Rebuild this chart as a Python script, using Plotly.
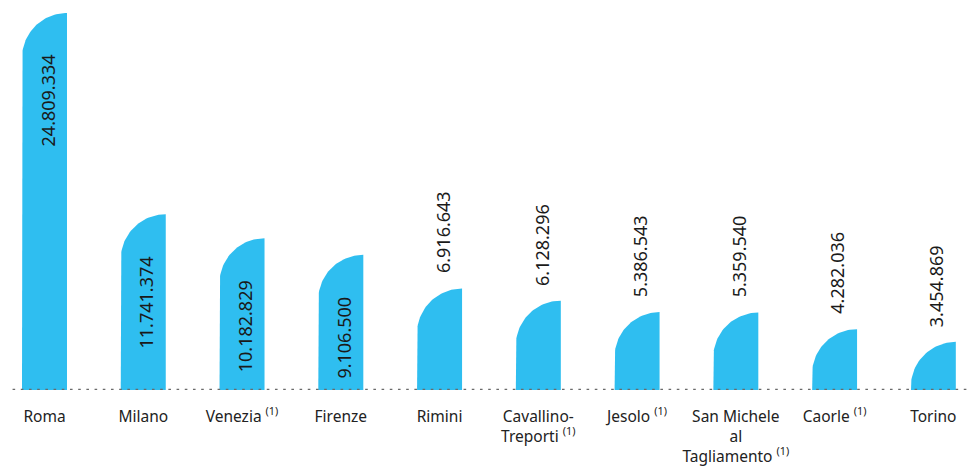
import numpy as np
import plotly.graph_objects as go

# ---- data ----
categories = ["Roma", "Milano", "Venezia <sup>(1)</sup>", "Firenze", "Rimini",
              "Cavallino-<br>Treporti <sup>(1)</sup>", "Jesolo <sup>(1)</sup>",
              "San Michele<br>al<br>Tagliamento <sup>(1)</sup>", "Caorle <sup>(1)</sup>", "Torino"]
values = [24809334, 11741374, 10182829, 9106500, 6916643, 6128296, 5386543, 5359540, 4282036, 3454869]
value_labels = ["24.809.334", "11.741.374", "10.182.829", "9.106.500", "6.916.643",
                "6.128.296", "5.386.543", "5.359.540", "4.282.036", "3.454.869"]

# ---- layout constants ----
W, H = 967, 468
M_T, M_B = 0, 78
PLOT_H = H - M_T - M_B
X_RANGE = [-0.4506, 9.341]
Y_RANGE = [0.33e6, 25.65e6]
BAR_W = 0.456           # in x units
COLOR = "#2FBEF0"
FONT = "Noto Sans"

px_per_x = W / (X_RANGE[1] - X_RANGE[0])
px_per_y = PLOT_H / (Y_RANGE[1] - Y_RANGE[0])
r_px = BAR_W * px_per_x
ry = r_px / px_per_y
rx = BAR_W

fig = go.Figure()
t = np.linspace(np.pi, np.pi / 2, 40)
for i, v in enumerate(values):
    xl = i - BAR_W / 2
    xr = i + BAR_W / 2
    cx, cy = xr, v - ry
    xs = [xl, xl] + list(cx + rx * np.cos(t)) + [xr, xr, xl]
    ys = [0, cy] + list(cy + ry * np.sin(t)) + [v, 0, 0]
    fig.add_trace(go.Scatter(x=xs, y=ys, mode="lines", fill="toself",
                             fillcolor=COLOR, line=dict(width=0, color=COLOR),
                             hoverinfo="skip", showlegend=False))

for i, (v, lab) in enumerate(zip(values, value_labels)):
    inside = v > 8e6
    fig.add_annotation(x=i, y=v, text=lab, showarrow=False, textangle=-90,
                       xanchor="center", yanchor="top" if inside else "bottom",
                       yshift=-40 if inside else 13, xshift=3,
                       font=dict(family=FONT, size=18, color="#1a1a1a"))

fig.add_shape(type="line", xref="paper", yref="y", x0=0.013, x1=1.0,
              y0=Y_RANGE[0], y1=Y_RANGE[0],
              line=dict(color="#6a6a6a", width=2.6, dash="2.6px,5.6px"))

fig.update_layout(
    width=W, height=H,
    margin=dict(l=0, r=0, t=M_T, b=M_B),
    paper_bgcolor="white", plot_bgcolor="white",
    xaxis=dict(range=X_RANGE, tickmode="array", tickvals=list(range(len(categories))),
               ticktext=categories, showgrid=False, zeroline=False, showline=False,
               ticks="outside", ticklen=12, tickcolor="rgba(0,0,0,0)",
               tickfont=dict(family=FONT, size=15.5, color="#222222")),
    yaxis=dict(range=Y_RANGE, visible=False, showgrid=False, zeroline=False),
)
fig.write_html("out.html")
